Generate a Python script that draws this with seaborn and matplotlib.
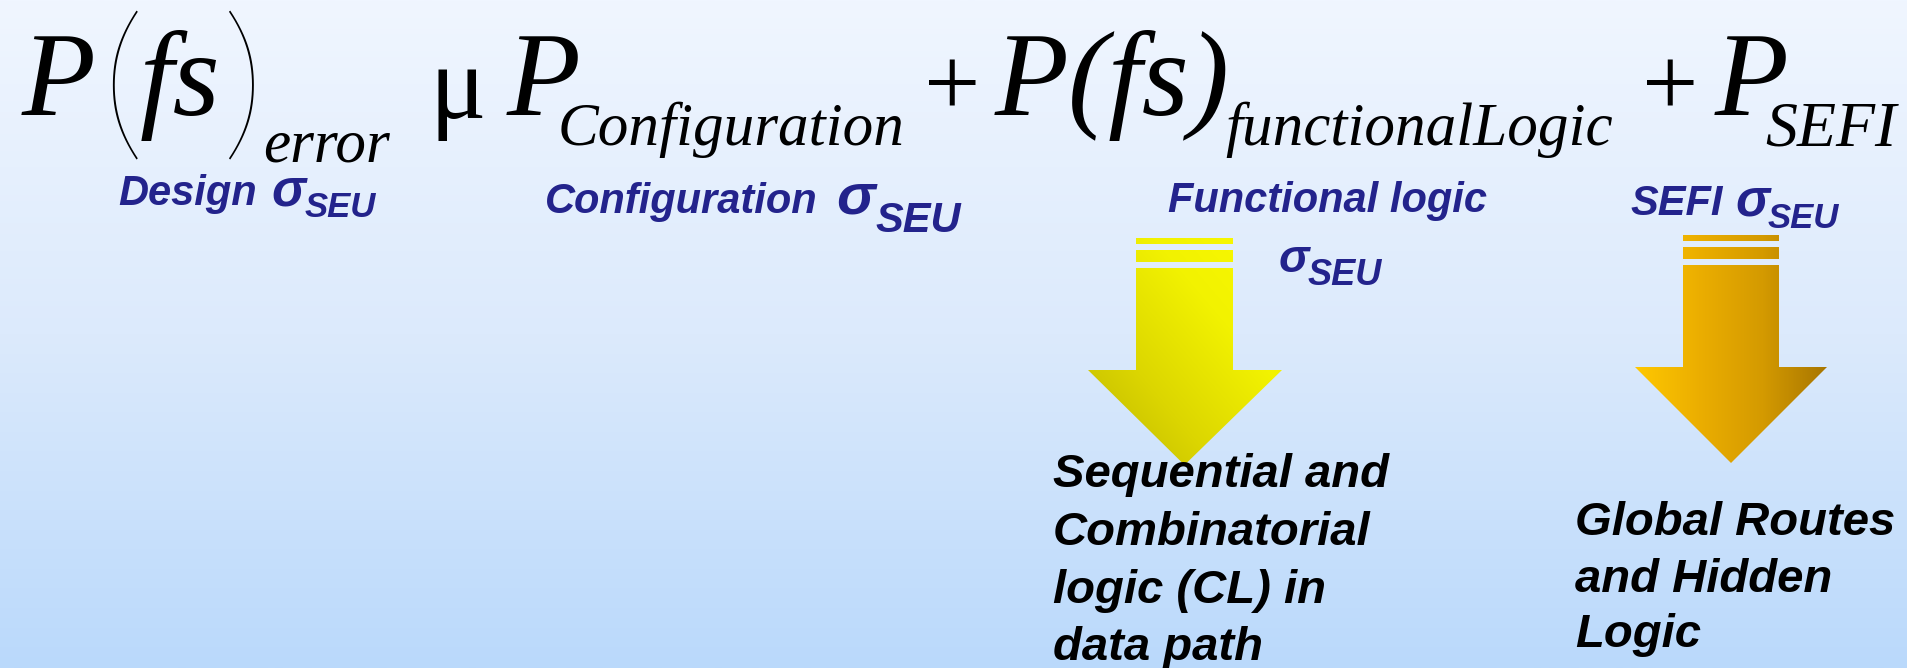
import numpy as np
import matplotlib
matplotlib.use("Agg")
import matplotlib.pyplot as plt
import seaborn as sns
from matplotlib.path import Path
from matplotlib.patches import PathPatch

# Tamanho da figura em pixels
W, H = 1907, 668

# Textos da formula (serifa italica)
formula_main = ["P", "fs", "\u03bc", "P", "P(fs)", "P"]
formula_parens = ["(", ")"]
formula_plus = ["+", "+"]
formula_subs = ["error", "Configuration", "functionalLogic", "SEFI"]

# Rotulos azuis (sigma de cada termo)
label_texts = ["Design", "Configuration", "Functional logic", "SEFI"]
sigma_texts = ["\u03c3", "\u03c3", "\u03c3", "\u03c3"]
seu_texts = ["SEU", "SEU", "SEU", "SEU"]

# Textos pretos embaixo das setas
seq_lines = ["Sequential and", "Combinatorial", "logic (CL) in", "data path"]
global_lines = ["Global Routes", "and Hidden", "Logic"]

# Posicoes (x, linha de base) e tamanhos
main_xy = [(22, 115), (140, 115), (430, 118), (507, 115), (995, 115), (1715, 115)]
main_size = [87, 87, 76, 87, 87, 87]
parens_xy = [(101, 139), (222, 139)]
plus_xy = [(952, 116), (1670, 116)]
subs_xy = [(263, 162), (558, 145), (1225, 145), (1765, 145)]
subs_size = [44, 44, 44, 46]
label_xy = [(118, 205), (545, 213), (1168, 212), (1630, 215)]
label_size = [30, 30, 30, 30]
sigma_xy = [(271, 205), (836, 213), (1279, 272), (1735, 215)]
sigma_size = [37, 42, 33, 37]
seu_xy = [(305, 217), (875, 232), (1308, 285), (1768, 228)]
seu_size = [25, 30, 26, 25]
seq_xy = [(1053, 487), (1053, 545), (1053, 603), (1053, 660)]
global_xy = [(1575, 535), (1575, 592), (1575, 647)]

BLUE = "#23238C"


def draw_arrow(ax, shaft, stripes, shaft_top, head, head_y, tip_y, cmap, diagonal):
    """Desenha uma seta com gradiente recortado pelo contorno."""
    x0, x1 = shaft
    hx0, hx1 = head
    tip_x = (x0 + x1) / 2
    paths = []
    for (s0, s1) in stripes:
        paths.append(Path([(x0, s0), (x1, s0), (x1, s1), (x0, s1), (x0, s0)], closed=True))
    body = [(x0, shaft_top), (x1, shaft_top), (x1, head_y), (hx1, head_y),
            (tip_x, tip_y), (hx0, head_y), (x0, head_y), (x0, shaft_top)]
    paths.append(Path(body, closed=True))
    arrow_path = Path.make_compound_path(*paths)

    top = stripes[0][0]
    xx, yy = np.meshgrid(np.linspace(0, 1, 300), np.linspace(0, 1, 300))
    if diagonal:
        grad = (xx + (1 - yy)) / 2
    else:
        grad = xx
    im = ax.imshow(grad, cmap=cmap, extent=[hx0, hx1, tip_y, top],
                   origin="upper", aspect="auto", zorder=2, interpolation="bilinear")
    patch = PathPatch(arrow_path, transform=ax.transData, facecolor="none", edgecolor="none")
    ax.add_patch(patch)
    im.set_clip_path(patch)


def main():
    sns.set_theme(style="white")
    plt.rcParams["font.family"] = ["Liberation Sans", "DejaVu Sans"]

    fig = plt.figure(figsize=(W / 100, H / 100), dpi=100)
    ax = fig.add_axes([0, 0, 1, 1])
    ax.set_xlim(0, W)
    ax.set_ylim(H, 0)
    ax.axis("off")

    # Fundo em degrade vertical
    bg_cmap = sns.blend_palette(["#F0F6FF", "#DCEAFC", "#BAD9FB"], as_cmap=True)
    bg = np.linspace(0, 1, 256).reshape(-1, 1)
    ax.imshow(bg, cmap=bg_cmap, extent=[0, W, H, 0], aspect="auto", zorder=0)

    serif_it = dict(family="Liberation Serif", style="italic", color="black", va="baseline", zorder=3)
    sans_bi = dict(family="Liberation Sans", weight="bold", style="italic", va="baseline", zorder=3)

    # Formula
    for txt, (x, y), s in zip(formula_main, main_xy, main_size):
        kw = dict(serif_it)
        if txt == "\u03bc":
            kw["style"] = "normal"
        ax.text(x, y, txt, fontsize=s, **kw)
    # parenteses altos e finos
    for txt, (x, y) in zip(formula_parens, parens_xy):
        ax.text(x, y, txt, fontsize=123, family="Lato", weight="light",
                color="black", va="baseline", zorder=3)
    for txt, (x, y) in zip(formula_plus, plus_xy):
        ax.text(x, y, txt, fontsize=72, family="Liberation Serif", color="black",
                ha="center", va="baseline", zorder=3)
    for txt, (x, y), s in zip(formula_subs, subs_xy, subs_size):
        ax.text(x, y, txt, fontsize=s, **serif_it)

    # Rotulos azuis
    for txt, (x, y), s in zip(label_texts, label_xy, label_size):
        ax.text(x, y, txt, fontsize=s, color=BLUE, **sans_bi)
    for txt, (x, y), s in zip(sigma_texts, sigma_xy, sigma_size):
        ax.text(x, y, txt, fontsize=s, color=BLUE, **sans_bi)
    for txt, (x, y), s in zip(seu_texts, seu_xy, seu_size):
        ax.text(x, y, txt, fontsize=s, color=BLUE, **sans_bi)

    # Setas
    yellow = sns.blend_palette(["#BDB400", "#DCD600", "#F2F200", "#FAFA00"], as_cmap=True)
    orange = sns.blend_palette(["#FFC800", "#EBAE00", "#D49A00", "#A87600"], as_cmap=True)
    draw_arrow(ax, (1136, 1233), [(238, 244), (250, 262)], 268, (1088, 1282), 370, 465, yellow, True)
    draw_arrow(ax, (1683, 1779), [(235, 241), (247, 259)], 265, (1635, 1827), 367, 463, orange, False)

    # Textos pretos
    for txt, (x, y) in zip(seq_lines, seq_xy):
        ax.text(x, y, txt, fontsize=34, color="black", **sans_bi)
    for txt, (x, y) in zip(global_lines, global_xy):
        ax.text(x, y, txt, fontsize=34, color="black", **sans_bi)

    fig.savefig("out.png", dpi=100)
    plt.close(fig)


if __name__ == "__main__":
    main()
